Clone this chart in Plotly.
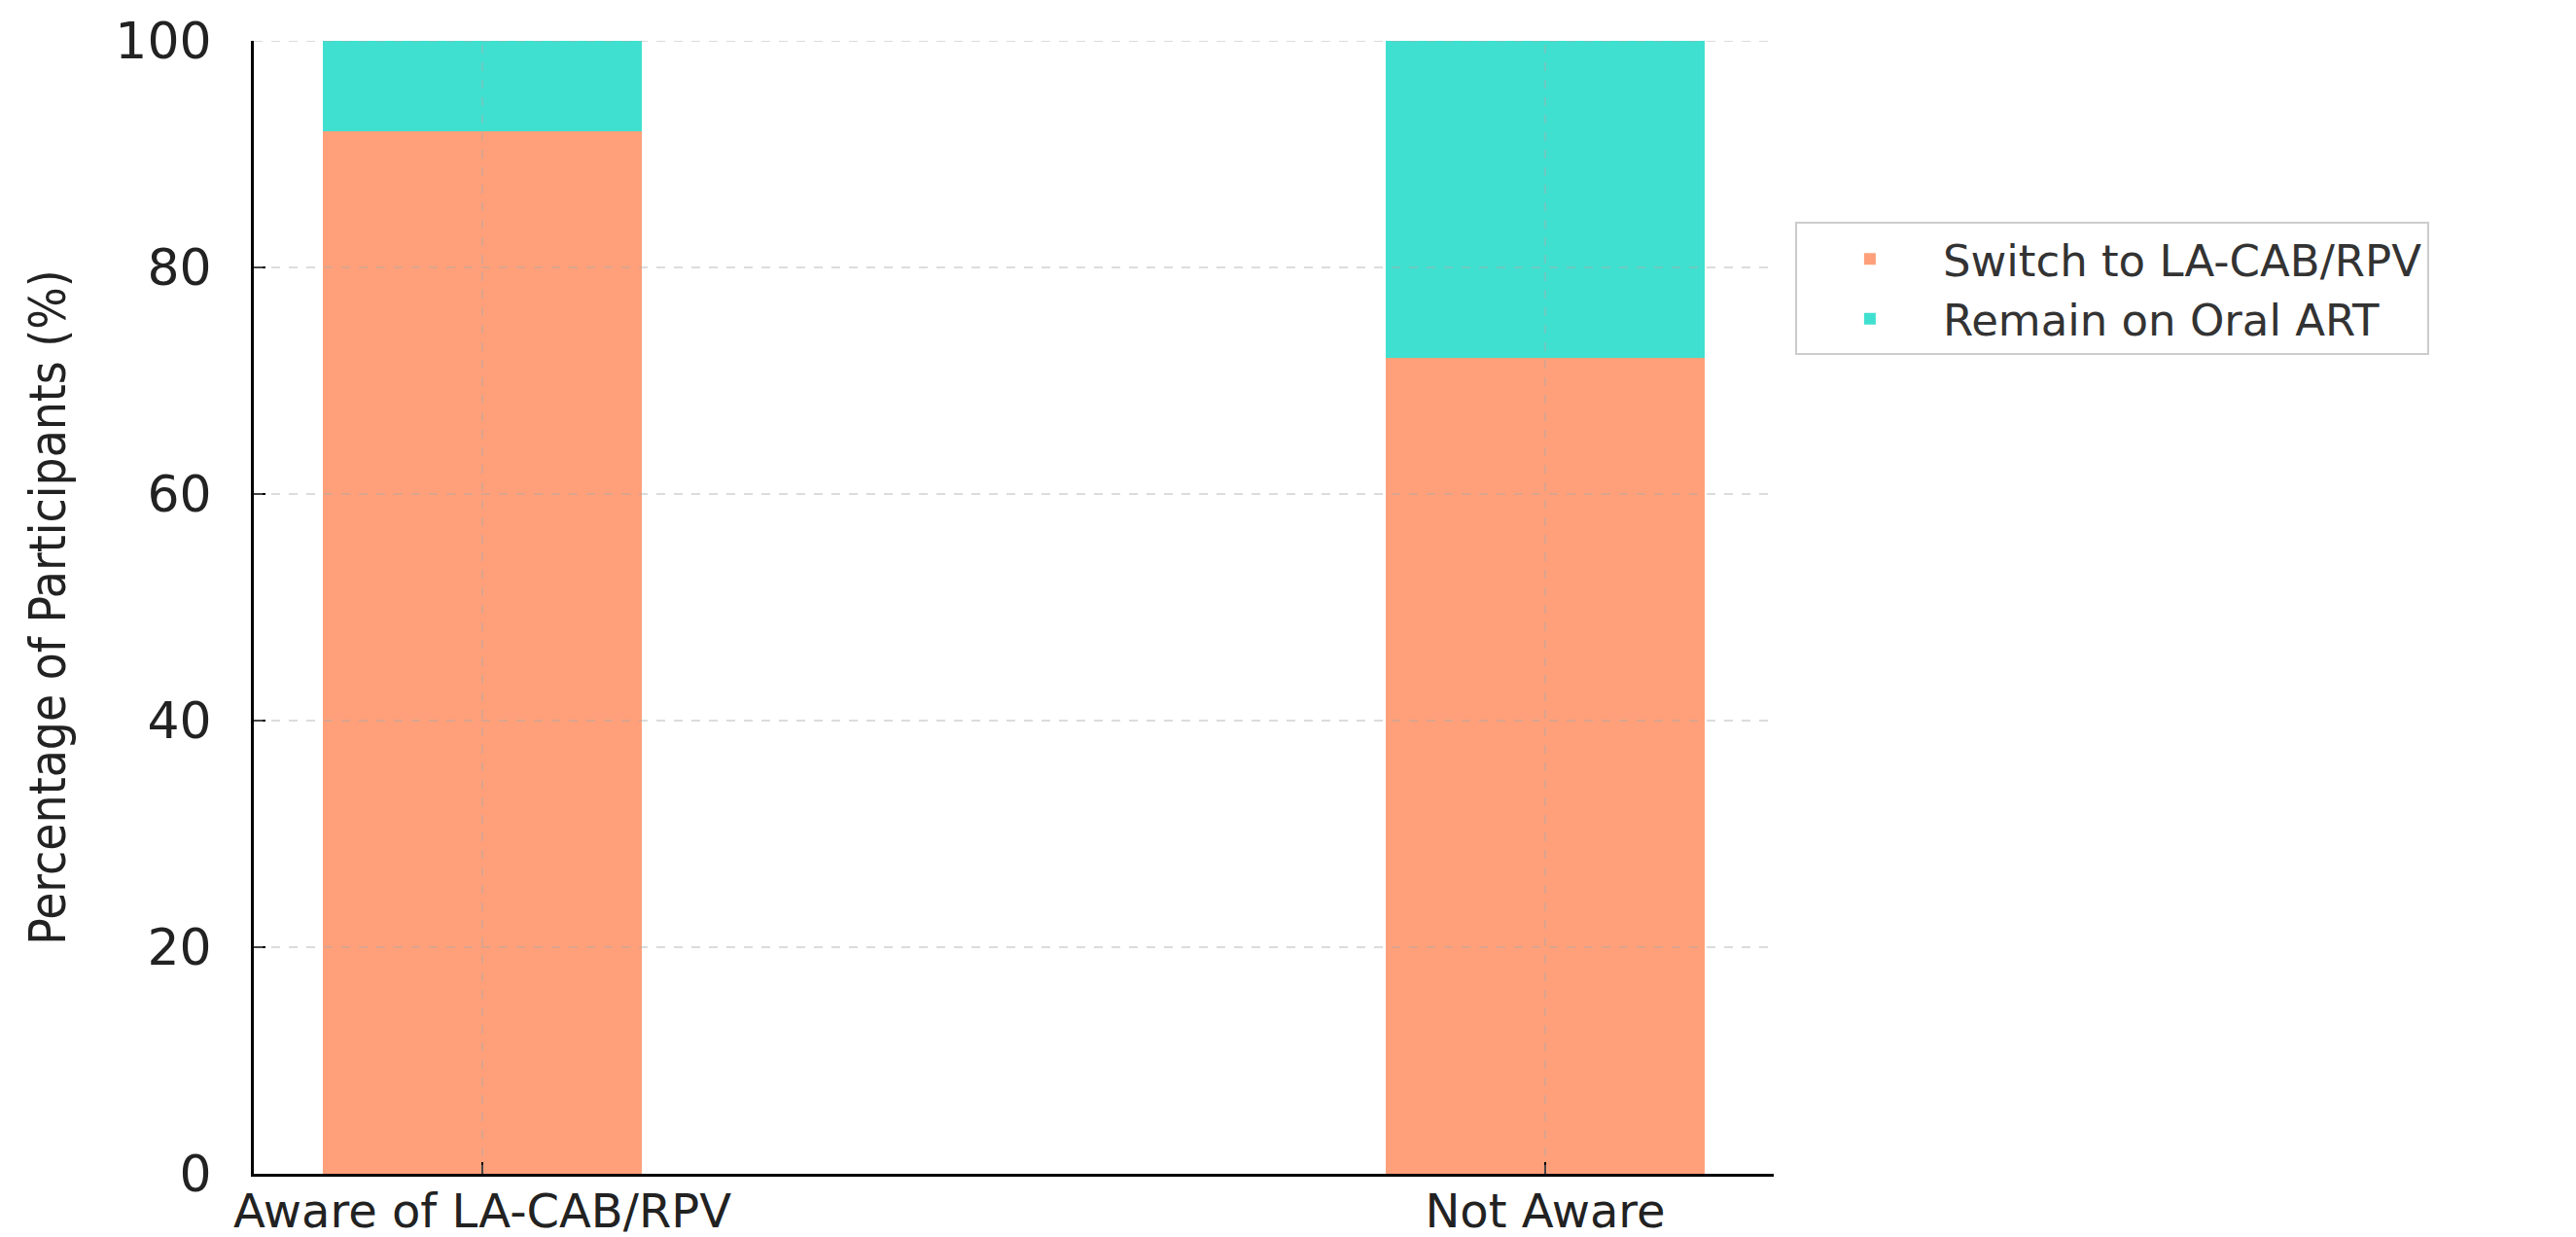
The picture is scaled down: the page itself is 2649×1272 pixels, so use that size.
import plotly.graph_objects as go

# data
groups = ["Aware of LA-CAB/RPV", "Not Aware"]
switch_pct = [92, 72]
remain_pct = [8, 28]
y_ticks = [0, 20, 40, 60, 80, 100]

SALMON = "#FFA07A"
TURQ = "#40E0D0"
GRID = "rgba(170,170,170,0.55)"

x_pos = list(range(len(groups)))

fig = go.Figure()
fig.add_trace(go.Bar(x=x_pos, y=switch_pct, name="Switch to LA-CAB/RPV",
                     marker=dict(color=SALMON, line=dict(width=0)), width=0.3))
fig.add_trace(go.Bar(x=x_pos, y=remain_pct, name="Remain on Oral ART",
                     marker=dict(color=TURQ, line=dict(width=0)), width=0.3))

# grid drawn on top of the bars, like the original
for v in y_ticks[1:]:
    fig.add_shape(type="line", xref="paper", yref="y", x0=0, x1=1, y0=v, y1=v,
                  line=dict(color=GRID, width=1.5, dash="dash"), layer="above")
for p in x_pos:
    fig.add_shape(type="line", xref="x", yref="paper", x0=p, x1=p, y0=0, y1=1,
                  line=dict(color=GRID, width=1.5, dash="dash"), layer="above")

fig.update_layout(
    template="none",
    barmode="stack",
    width=2649, height=1272,
    paper_bgcolor="white", plot_bgcolor="white",
    margin=dict(l=253, r=833, t=34, b=73),
    font=dict(family="DejaVu Sans", size=52, color="#222222"),
    legend=dict(x=1.014, y=0.84, xanchor="left", yanchor="top",
                traceorder="normal", itemwidth=140,
                bordercolor="#cccccc", borderwidth=2, bgcolor="white",
                font=dict(size=45, color="#333333")),
    showlegend=True,
)
fig.update_xaxes(
    range=[-0.215, 1.215], tickvals=x_pos, ticktext=groups,
    tickfont=dict(size=48),
    showline=True, linecolor="black", linewidth=3,
    ticks="inside", ticklen=12, tickwidth=2, tickcolor="black",
    showgrid=False, zeroline=False, layer="above traces", ticklabelstandoff=-6,
)
fig.update_yaxes(
    range=[0, 100], tickvals=y_ticks,
    showline=True, linecolor="black", linewidth=3,
    ticks="inside", ticklen=12, tickwidth=2, tickcolor="black",
    showgrid=False, zeroline=False, layer="above traces", ticklabelstandoff=30,
    title=dict(text="Percentage of Participants (%)", standoff=35,
               font=dict(family="DejaVu Sans Condensed", size=51, color="#222222")),
)

fig.write_html("out.html")
